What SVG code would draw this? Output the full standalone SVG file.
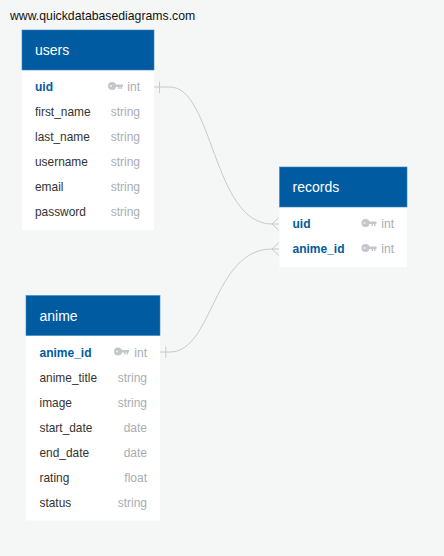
<svg xmlns="http://www.w3.org/2000/svg" width="444" height="556" viewBox="0 0 444 556">
<style>
text{font-family:"Liberation Sans",Arial,sans-serif}
.bg{fill:#f5f7f7}
.body{fill:#fff}
.head{fill:#005ba1;stroke:#3f86bd;stroke-width:.6}
.title{fill:#fff;font-size:14px}
.url{fill:#111;font-size:12.25px}
.pk{fill:#005ba1;font-size:12px;font-weight:bold}
.col{fill:#333;font-size:11.9px}
.type{fill:#a9adb3;font-size:12px;text-anchor:end}
.key{fill:#c3c7cc}
.line{fill:none;stroke:#c8caca;stroke-width:1}
</style>
<defs>
<g id="key"><circle cx="4" cy="0" r="4" class="key"/><path d="M7 -1.500H15V1H14V3H12.500V1H11.500V3H10V1H7Z" class="key"/><circle cx="3" cy="0" r="1.100" fill="#eceef0"/></g>
</defs>
<rect class="bg" width="444" height="556"/>
<text class="url" x="10" y="20">www.quickdatabasediagrams.com</text>
<g id="connectors">
<path class="line" d="M154 87H170C213 87 213 224 272 224H279"/>
<path class="line" d="M160 352H170C213 352 213 249 272 249H279"/>
<path class="line" d="M159.500 81.500V93M272 224L279 217.500M272 224L279 230.500M272 249L279 242.500M272 249L279 255.500M165.800 346.500V358"/>
</g>
<g id="users">
<rect class="body" x="22" y="70" width="132" height="160"/>
<rect class="head" x="22" y="30" width="132" height="40"/>
<text class="title" x="35" y="55">users</text>
<text class="pk" x="35" y="91">uid</text><use href="#key" x="108" y="86"/><text class="type" x="140" y="91">int</text>
<text class="col" x="35" y="116">first_name</text><text class="type" x="140" y="116">string</text>
<text class="col" x="35" y="141">last_name</text><text class="type" x="140" y="141">string</text>
<text class="col" x="35" y="166">username</text><text class="type" x="140" y="166">string</text>
<text class="col" x="35" y="191">email</text><text class="type" x="140" y="191">string</text>
<text class="col" x="35" y="216">password</text><text class="type" x="140" y="216">string</text>
</g>
<g id="records">
<rect class="body" x="279.500" y="207" width="127.500" height="60"/>
<rect class="head" x="279.500" y="167" width="127.500" height="40"/>
<text class="title" x="292.500" y="192">records</text>
<text class="pk" x="292.500" y="228">uid</text><use href="#key" x="361.500" y="223"/><text class="type" x="394" y="228">int</text>
<text class="pk" x="292.500" y="253">anime_id</text><use href="#key" x="361.500" y="248"/><text class="type" x="394" y="253">int</text>
</g>
<g id="anime">
<rect class="body" x="26" y="335.500" width="134" height="185"/>
<rect class="head" x="26" y="295.500" width="134" height="40"/>
<text class="title" x="39.500" y="321">anime</text>
<text class="pk" x="39.500" y="357">anime_id</text><use href="#key" x="114" y="351.500"/><text class="type" x="147" y="357">int</text>
<text class="col" x="39.500" y="382">anime_title</text><text class="type" x="147" y="382">string</text>
<text class="col" x="39.500" y="407">image</text><text class="type" x="147" y="407">string</text>
<text class="col" x="39.500" y="432">start_date</text><text class="type" x="147" y="432">date</text>
<text class="col" x="39.500" y="457">end_date</text><text class="type" x="147" y="457">date</text>
<text class="col" x="39.500" y="482">rating</text><text class="type" x="147" y="482">float</text>
<text class="col" x="39.500" y="507">status</text><text class="type" x="147" y="507">string</text>
</g>
</svg>
